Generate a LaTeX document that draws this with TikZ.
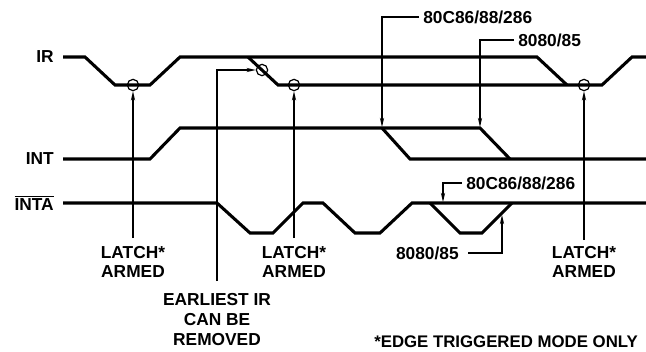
\documentclass[tikz,border=0pt]{standalone}
\usepackage{fontspec}
\setmainfont{Liberation Sans}
\usetikzlibrary{arrows.meta}
\begin{document}
\begin{tikzpicture}[x=0.75pt,y=-0.75pt,
  sig/.style={line width=2.3pt,line join=miter},
  thin/.style={line width=0.9pt},
  arr/.style={thin,-{Stealth[length=7pt,width=3.2pt]}},
  lbl/.style={font=\fontsize{13}{14.5}\selectfont\bfseries,inner sep=0pt,align=center},
  ring/.style={circle,draw,line width=0.9pt,minimum size=8.5pt,inner sep=0pt}]
\useasboundingbox (0,0) rectangle (646,351);
% signal names
\node[lbl,anchor=east] (irl) at (54,57) {IR};
\node[lbl,anchor=east] (intl) at (54,159) {INT};
\node[lbl,anchor=east] (intal) at (54,203) {$\overline{\hbox{INTA}}$};
% IR waveform
\draw[sig] (63,57)--(85,57)--(115,85)--(150,85)--(180,57)--(537,57)--(567,85);
\draw[sig] (248,57)--(278,85)--(602,85)--(632,57)--(646,57);
% INT waveform
\draw[sig] (63,159)--(150,159)--(180,128)--(480,128)--(510,159);
\draw[sig] (382,128)--(410,159)--(646,159);
% INTA waveform
\draw[sig] (63,203)--(217,203)--(250,233)--(273,233)--(303,203)--(323,203)--(355,233)--(380,233)--(412,203)--(646,203);
\draw[sig] (430,203)--(460,233)--(482,233)--(512,203);
% rings
\node[ring] (c1) at (133,85) {};
\node[ring] (c2) at (262,70) {};
\node[ring] (c3) at (294,85) {};
\node[ring] (c4) at (584,85) {};
% labels
\node[lbl] (la1) at (133,262) {LATCH*\\ARMED};
\node[lbl] (la2) at (294,262) {LATCH*\\ARMED};
\node[lbl] (la3) at (584,262) {LATCH*\\ARMED};
\node[lbl,font=\fontsize{13}{15}\selectfont\bfseries] (ear) at (217,320) {EARLIEST IR\\CAN BE\\REMOVED};
\node[lbl,anchor=west,font=\fontsize{12.6}{14}\selectfont\bfseries] (edge) at (374,342) {*EDGE TRIGGERED MODE ONLY};
\node[lbl,anchor=west] (t1) at (423,17) {80C86/88/286};
\node[lbl,anchor=west] (t2) at (518,40) {8080/85};
\node[lbl,anchor=west] (b1) at (466,183) {80C86/88/286};
\node[lbl,anchor=east] (b2) at (459,253) {8080/85};
% start coordinates
\coordinate (s1) at (133,238);
\coordinate (s2) at (217,281);
\coordinate (s3) at (294,238);
\coordinate (s4) at (584,240);
% arrows
\draw[arr] (s1) -- (c1.south);
\draw[arr] (s2) |- (c2.west);
\draw[arr] (s3) -- (c3.south);
\draw[arr] (s4) -- (c4.south);
\draw[arr] (t1.west) ++(-4,0) -- (382,17) -- (382,127);
\draw[arr] (t2.west) ++(-4,0) -- (480,40) -- (480,127);
\draw[arr] (b1.west) ++(-4,0) -- (443,183) -- (443,202);
\draw[arr] (b2.east) ++(9,0) -- (502,253) -- (502,215);
\end{tikzpicture}
\end{document}
